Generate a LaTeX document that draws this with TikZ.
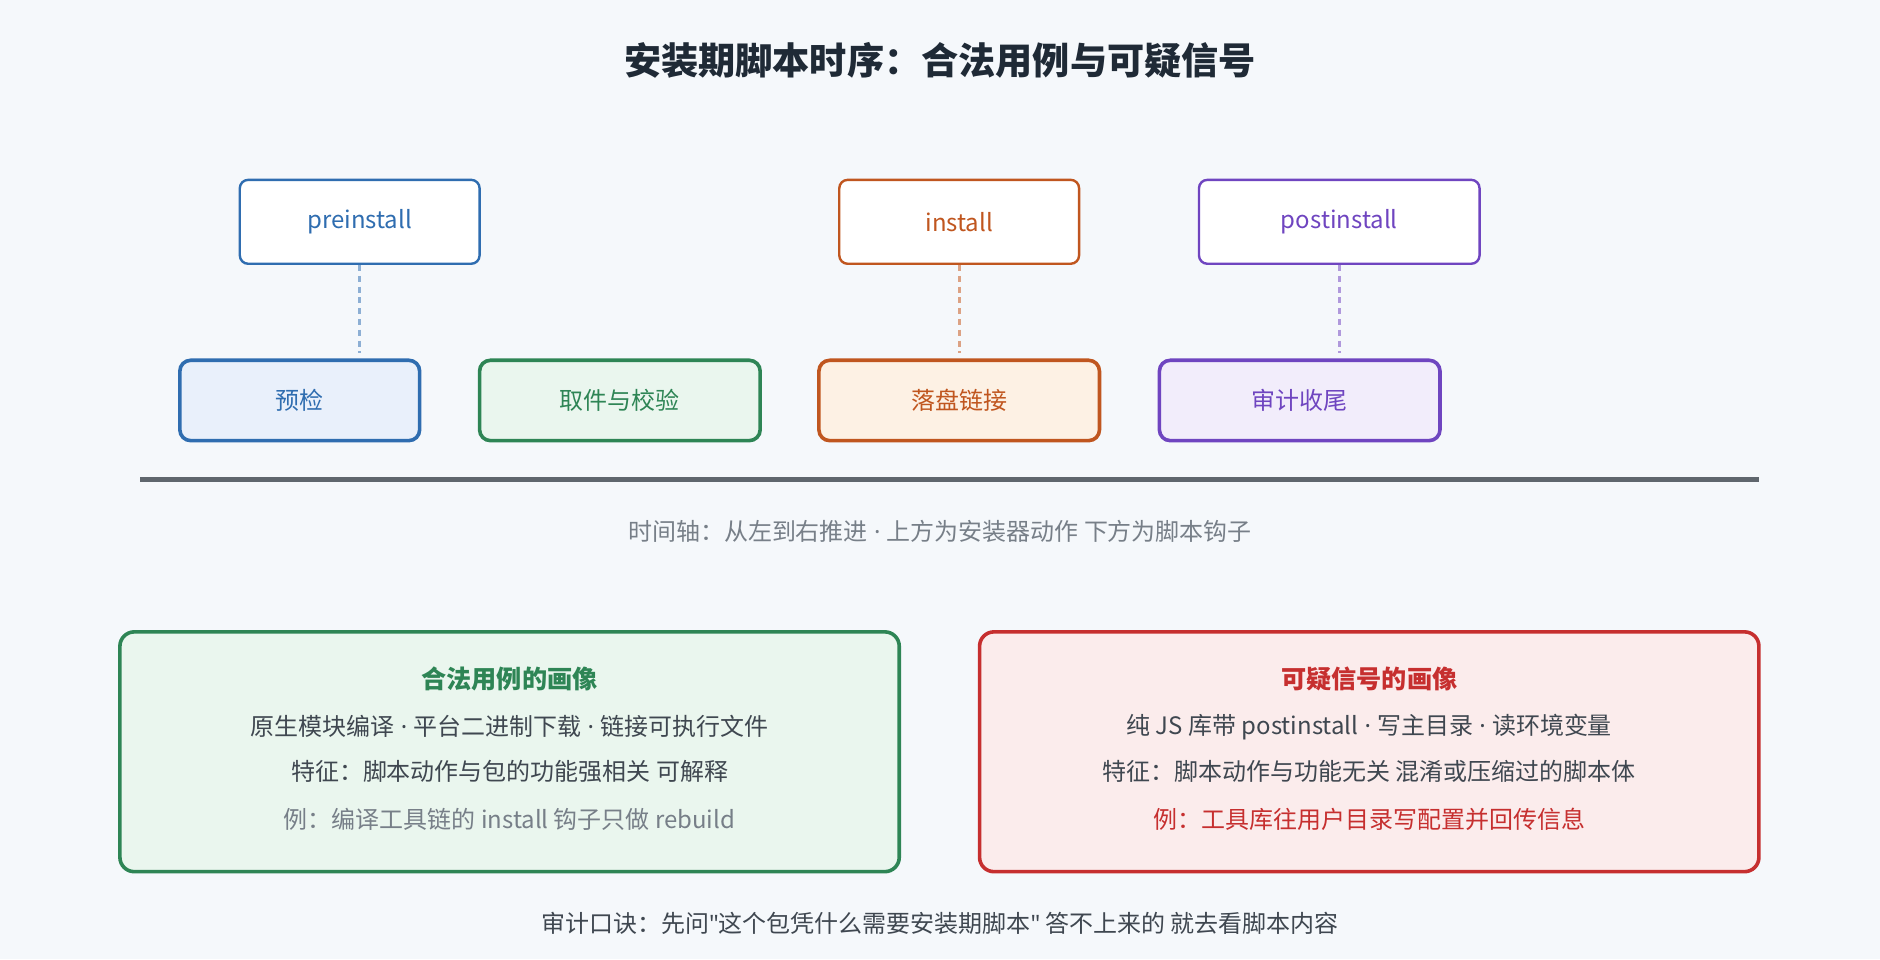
\documentclass[tikz,border=0pt]{standalone}
\usepackage{fontspec}
\setmainfont{Noto Sans CJK SC}
\newfontfamily\lat{Noto Sans}
\newcommand{\md}{{\lat\ ·\ }}
\newcommand{\dq}{{\lat\symbol{34}}}
\begin{document}
\begin{tikzpicture}[x=1pt,y=-1pt,
 top/.style={draw=#1,fill=white,line width=2pt,rounded corners=7pt,text=#1,font=\fontsize{20}{24}\selectfont,inner sep=0pt},
 low/.style={line width=3pt,rounded corners=9pt,font=\fontsize{20}{24}\selectfont,inner sep=0pt},
 big/.style={line width=3pt,rounded corners=12pt,inner sep=0pt},
 txt/.style={font=\fontsize{20}{24}\selectfont,text=#1},
 dash/.style={draw=#1,line width=2.5pt,dash pattern=on 5pt off 4pt}]
\definecolor{bg}{HTML}{F5F8FB}
\definecolor{cb}{HTML}{2F6DB0}\definecolor{co}{HTML}{C0561F}\definecolor{cp}{HTML}{6F45C0}
\definecolor{cg}{HTML}{2E8555}\definecolor{cr}{HTML}{C62F2F}
\definecolor{fb}{HTML}{E9F0FB}\definecolor{fg}{HTML}{EAF6EE}\definecolor{fo}{HTML}{FDF1E4}
\definecolor{fp}{HTML}{F2EDFB}\definecolor{fr}{HTML}{FBECEC}
\definecolor{ink}{HTML}{1F2A36}\definecolor{gr}{HTML}{777F88}\definecolor{dk}{HTML}{3F4750}
\fill[bg] (0,0) rectangle (1568,800);
\useasboundingbox (0,0) rectangle (1568,800);
\node[font=\fontsize{31}{35}\selectfont\bfseries,text=ink] (title) at (784,50) {安装期脚本时序：合法用例与可疑信号};
\node[top=cb,minimum width=200pt,minimum height=70pt] (pre) at (300,185) {preinstall};
\node[top=co,minimum width=200pt,minimum height=70pt] (ins) at (800,185) {install};
\node[top=cp,minimum width=234pt,minimum height=70pt] (post) at (1117,185) {postinstall};
\node[low,draw=cb,fill=fb,text=cb,minimum width=200pt,minimum height=67pt] (a) at (250,334) {预检};
\node[low,draw=cg,fill=fg,text=cg,minimum width=234pt,minimum height=67pt] (b) at (517,334) {取件与校验};
\node[low,draw=co,fill=fo,text=co,minimum width=234pt,minimum height=67pt] (c) at (800,334) {落盘链接};
\node[low,draw=cp,fill=fp,text=cp,minimum width=234pt,minimum height=67pt] (d) at (1084,334) {审计收尾};
\coordinate (pa) at (300,294);\coordinate (ia) at (800,294);\coordinate (qa) at (1117,294);
\draw[dash=cb!55] (pre.south) -- (pa);
\draw[dash=co!55] (ins.south) -- (ia);
\draw[dash=cp!55] (post.south) -- (qa);
\coordinate (t1) at (117,400);\coordinate (t2) at (1467,400);
\draw[draw=gr!80!black,line width=4pt] (t1) -- (t2);
\node[txt=gr] (cap) at (784,443) {时间轴：从左到右推进\md 上方为安装器动作 下方为脚本钩子};
\node[big,draw=cg,fill=fg,minimum width=650pt,minimum height=200pt] (L) at (425,627) {};
\node[txt=cg,font=\fontsize{21}{25}\selectfont\bfseries] (l1) at (425,566) {合法用例的画像};
\node[txt=dk] (l2) at (425,606) {原生模块编译\md 平台二进制下载\md 链接可执行文件};
\node[txt=dk] (l3) at (425,643) {特征：脚本动作与包的功能强相关 可解释};
\node[txt=gr] (l4) at (425,683) {例：编译工具链的 install 钩子只做 rebuild};
\node[big,draw=cr,fill=fr,minimum width=650pt,minimum height=200pt] (R) at (1142,627) {};
\node[txt=cr,font=\fontsize{21}{25}\selectfont\bfseries] (r1) at (1142,566) {可疑信号的画像};
\node[txt=dk] (r2) at (1142,606) {纯 JS 库带 postinstall\md 写主目录\md 读环境变量};
\node[txt=dk] (r3) at (1142,643) {特征：脚本动作与功能无关 混淆或压缩过的脚本体};
\node[txt=cr] (r4) at (1142,683) {例：工具库往用户目录写配置并回传信息};
\node[txt=dk] (foot) at (784,770) {审计口诀：先问\dq 这个包凭什么需要安装期脚本\dq\ 答不上来的 就去看脚本内容};
\end{tikzpicture}
\end{document}
